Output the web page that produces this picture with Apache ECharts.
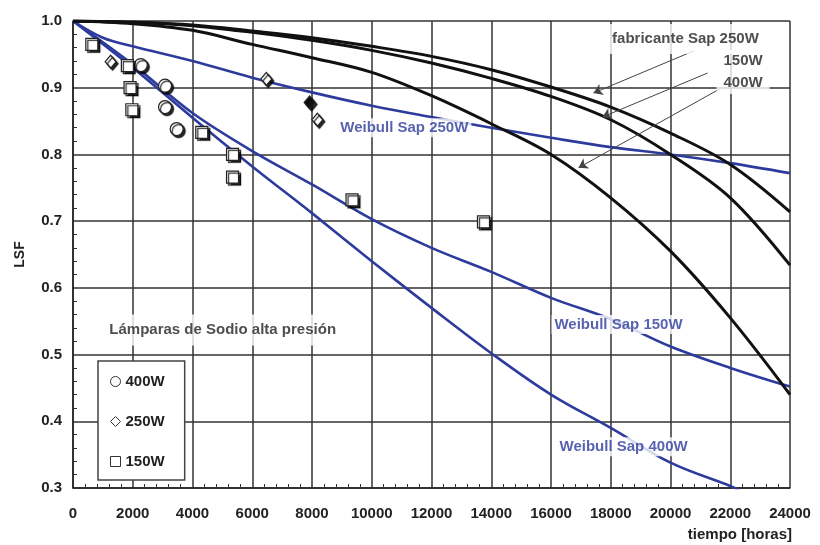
<!DOCTYPE html>
<html>
<head>
<meta charset="utf-8">
<script src="https://cdn.jsdelivr.net/npm/echarts@6/dist/echarts.min.js"></script>
<style>html,body{margin:0;padding:0;background:#fff}#c{width:820px;height:545px}</style>
</head>
<body>
<div id="c"></div>
<script>
// ---- data ----
const hours = [0,2000,4000,6000,8000,10000,12000,14000,16000,18000,20000,22000,24000];
const xTicks = [0,2000,4000,6000,8000,10000,12000,14000,16000,18000,20000,22000,24000];
const yTicks = [0.3,0.4,0.5,0.6,0.7,0.8,0.9,1.0];

// manufacturer curves (black)
const fab250 = [1.0,0.998,0.994,0.985,0.975,0.962,0.947,0.927,0.901,0.871,0.832,0.785,0.714];
const fab150 = [1.0,0.998,0.993,0.983,0.971,0.956,0.937,0.914,0.887,0.852,0.800,0.735,0.634];
const fab400 = [1.0,0.996,0.986,0.965,0.945,0.923,0.888,0.846,0.800,0.735,0.655,0.555,0.440];

// Weibull fits (blue)
const wb250Hours = [0,1000,2000,4000,6000,8000,10000,12000,14000,16000,18000,20000,22000,24000];
const wb250 = [1.0,0.975,0.962,0.940,0.915,0.893,0.873,0.856,0.840,0.825,0.811,0.800,0.787,0.772];
const wb150 = [1.0,0.935,0.862,0.805,0.755,0.703,0.660,0.624,0.585,0.553,0.512,0.480,0.452];
const wb400Hours = [0,2000,4000,6000,8000,10000,12000,14000,16000,18000,20000,22000,22300];
const wb400 = [1.0,0.930,0.855,0.782,0.712,0.640,0.570,0.502,0.440,0.390,0.338,0.303,0.297];

// measured points
const pts400Hours = [2270,3080,3080,3470];
const pts400 = [0.934,0.903,0.871,0.838];
const pts250Hours = [1260,6470,7920,8180];
const pts250 = [0.939,0.913,0.878,0.852];
const pts250Filled = [false,false,true,false];
const pts150Hours = [630,1820,1910,1970,4310,5340,5340,9340,13740];
const pts150 = [0.965,0.933,0.900,0.867,0.833,0.800,0.766,0.732,0.699];

// annotation texts
const curveLabels = ['Weibull Sap 250W','Weibull Sap 150W','Weibull Sap 400W'];
const curveLabelHours = [11090,18260,18430];
const curveLabelLsf = [0.840,0.545,0.362];
const fabLabels = ['fabricante Sap 250W','150W','400W'];
const fabLabelHours = [20500,22430,22430];
const fabLabelLsf = [0.973,0.940,0.907];
const arrowFromHours = [20770,21240,21680];
const arrowFromLsf = [0.955,0.922,0.899];
const arrowToHours = [17420,17720,16920];
const arrowToLsf = [0.892,0.856,0.780];
const titleText = 'Lámparas de Sodio alta presión';
const titleHours = 5010, titleLsf = 0.537;

const FONT = "'Liberation Sans', Arial, sans-serif";
const BLUE = '#2d3c9c';
const BLACK = '#111';

const zip = (xs, ys) => xs.map((x, i) => [x, ys[i]]);

const lineSeries = (name, xs, ys, color, width) => ({
  name, type: 'line', data: zip(xs, ys), showSymbol: false, symbol: 'none',
  smooth: 0.35, clip: true, z: 3,
  lineStyle: { color, width }, silent: true
});

const markerStyle = {
  color: '#fff', borderColor: '#222', borderWidth: 1.2, opacity: 1,
  shadowColor: 'rgba(0,0,0,0.85)', shadowOffsetX: 2, shadowOffsetY: 2, shadowBlur: 1
};

const labelBox = (color, size, pad) => ({
  show: true, position: 'inside', formatter: '{b}', color,
  fontFamily: FONT, fontWeight: 'bold', fontSize: size,
  backgroundColor: '#fff', padding: pad
});

const chart = echarts.init(document.getElementById('c'), null, { renderer: 'canvas' });
chart.setOption({
  animation: false,
  backgroundColor: '#fff',
  grid: { left: 73, right: 30, top: 21, bottom: 57 },
  xAxis: {
    type: 'value', min: xTicks[0], max: xTicks[xTicks.length - 1], interval: 2000,
    axisLine: { show: true, onZero: false, lineStyle: { color: '#222', width: 1.5 } },
    axisTick: { show: false, inside: true },
    minorTick: { show: true, splitNumber: 5, length: 4, lineStyle: { color: '#333', width: 1 } },
    splitLine: { show: true, lineStyle: { color: '#333', width: 1.5 } },
    axisLabel: { margin: 18, color: '#222', fontFamily: FONT, fontWeight: 'bold', fontSize: 15,
      formatter: v => String(v) }
  },
  yAxis: {
    type: 'value', min: yTicks[0], max: yTicks[yTicks.length - 1], interval: 0.1,
    name: 'LSF', nameLocation: 'middle', nameGap: 46, nameRotate: 90,
    nameTextStyle: { color: '#222', fontFamily: FONT, fontWeight: 'bold', fontSize: 14 },
    axisLine: { show: true, onZero: false, lineStyle: { color: '#222', width: 1.5 } },
    axisTick: { show: false, inside: true },
    minorTick: { show: true, splitNumber: 5, length: 4, lineStyle: { color: '#333', width: 1 } },
    splitLine: { show: true, lineStyle: { color: '#333', width: 1.5 } },
    axisLabel: { margin: 11, color: '#222', fontFamily: FONT, fontWeight: 'bold', fontSize: 15,
      formatter: v => v.toFixed(1) }
  },
  legend: {
    data: ['400W', '250W', '150W'], orient: 'vertical', left: 98, top: 361,
    backgroundColor: '#fff', borderColor: '#444', borderWidth: 1.5,
    padding: [13, 20, 11, 12], itemGap: 25, itemWidth: 10, itemHeight: 10,
    textStyle: { color: '#222', fontFamily: FONT, fontWeight: 'bold', fontSize: 15 },
    itemStyle: { color: '#fff', borderColor: '#333', borderWidth: 1, opacity: 1, shadowColor: 'transparent', shadowOffsetX: 0, shadowOffsetY: 0, shadowBlur: 0 },
    selectedMode: false
  },
  graphic: [{
    type: 'text', right: 28, top: 527, z: 10,
    style: { text: 'tiempo [horas]', font: "bold 15px 'Liberation Sans', Arial, sans-serif", fill: '#222' }
  }],
  series: [
    lineSeries('wb250', wb250Hours, wb250, BLUE, 2.6),
    lineSeries('wb150', hours, wb150, BLUE, 2.6),
    lineSeries('wb400', wb400Hours, wb400, BLUE, 2.6),
    lineSeries('fab250', hours, fab250, BLACK, 3),
    lineSeries('fab150', hours, fab150, BLACK, 3),
    lineSeries('fab400', hours, fab400, BLACK, 3),
    {
      name: '400W', type: 'scatter', symbol: 'circle', symbolSize: 13, z: 5,
      itemStyle: markerStyle, data: zip(pts400Hours, pts400)
    },
    {
      name: '250W', type: 'scatter', symbol: 'diamond', symbolSize: [11, 13], z: 5,
      itemStyle: markerStyle,
      data: pts250Hours.map((h, i) => pts250Filled[i]
        ? { value: [h, pts250[i]], itemStyle: { color: '#111' } }
        : [h, pts250[i]])
    },
    {
      name: '150W', type: 'scatter', symbol: 'rect', symbolSize: 12, z: 5,
      itemStyle: markerStyle, data: zip(pts150Hours, pts150)
    },
    {
      name: 'curveLabels', type: 'scatter', symbol: 'rect', symbolSize: 1, z: 6, silent: true,
      itemStyle: { color: 'transparent' },
      label: labelBox(BLUE, 15, [2, 3]),
      data: curveLabels.map((t, i) => ({ name: t, value: [curveLabelHours[i], curveLabelLsf[i]] }))
    },
    {
      name: 'title', type: 'scatter', symbol: 'rect', symbolSize: 1, z: 6, silent: true,
      itemStyle: { color: 'transparent' },
      label: labelBox('#222', 15, [8, 6]),
      data: [{ name: titleText, value: [titleHours, titleLsf] }]
    },
    {
      name: 'fabLabels', type: 'scatter', symbol: 'rect', symbolSize: 1, z: 7, silent: true,
      itemStyle: { color: 'transparent' },
      label: labelBox('#222', 15, [4, 6]),
      data: fabLabels.map((t, i) => ({
        name: t, value: [fabLabelHours[i], fabLabelLsf[i]],
        label: i === 0 ? { padding: [8, 10, 7, 10] } : { padding: [3, 7, 4, 7] }
      })),
      markLine: {
        silent: true, symbol: ['none', 'arrow'], symbolSize: [1, 9],
        lineStyle: { color: '#444', width: 1, type: 'solid', opacity: 1 },
        label: { show: false },
        emphasis: { disabled: true },
        data: arrowFromHours.map((h, i) => [
          { coord: [h, arrowFromLsf[i]], symbol: 'none' },
          { coord: [arrowToHours[i], arrowToLsf[i]], symbol: 'arrow', symbolSize: 9 }
        ])
      }
    }
  ]
});
</script>
</body>
</html>
